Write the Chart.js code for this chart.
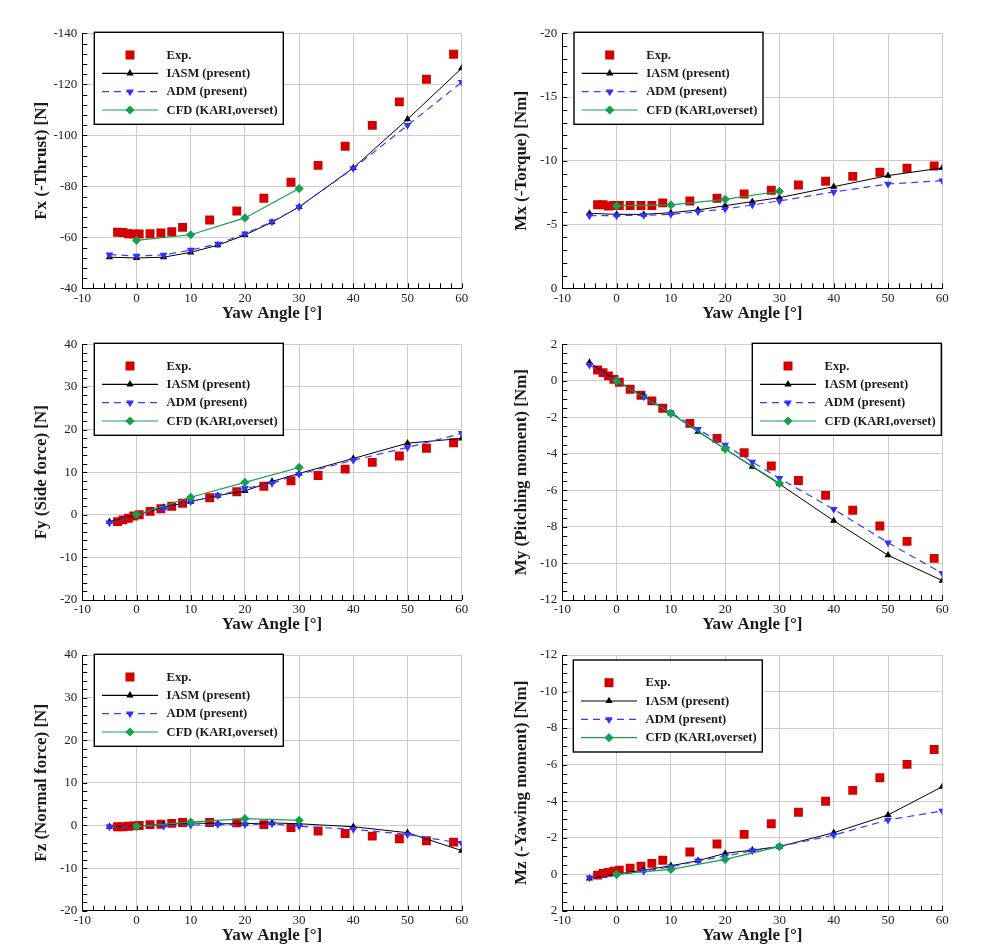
<!DOCTYPE html>
<html>
<head>
<meta charset="utf-8">
<script src="https://cdn.jsdelivr.net/npm/chart.js@4/dist/chart.umd.min.js"></script>
<style>
  html, body { margin: 0; padding: 0; background: #fff; }
  #wrap { position: relative; width: 999px; height: 946px; overflow: hidden; background: #fff; }
  canvas { position: absolute; }
</style>
</head>
<body>
<div id="wrap"></div>
<script>
// ---------------- DATA ----------------
const yawExp   = [-3.5, -2.5, -1.5, -0.5, 0.5, 2.5, 4.5, 6.5, 8.5, 13.5, 18.5, 23.5, 28.5, 33.5, 38.5, 43.5, 48.5, 53.5, 58.5];
const yawModel = [-5, 0, 5, 10, 15, 20, 25, 30, 40, 50, 60];
const yawCFD   = [0, 10, 20, 30];

const fxExp  = [-62.0, -61.9, -61.4, -61.3, -61.3, -61.4, -61.7, -62.2, -63.9, -66.8, -70.3, -75.3, -81.6, -88.2, -95.7, -103.9, -113.1, -122.0, -131.8];
const fxIASM = [-52.2, -51.9, -52.2, -54.1, -56.9, -60.9, -65.9, -71.9, -87.2, -106.3, -126.3];
const fxADM  = [-53.2, -52.7, -53.1, -55.0, -57.4, -61.4, -66.1, -71.9, -87.0, -103.9, -120.8];
const fxCFD  = [-58.8, -61.0, -67.6, -79.1];

const mxExp  = [-6.55, -6.55, -6.45, -6.5, -6.5, -6.5, -6.5, -6.5, -6.7, -6.85, -7.06, -7.40, -7.69, -8.10, -8.39, -8.78, -9.10, -9.41, -9.59];
const mxIASM = [-5.88, -5.8, -5.8, -5.93, -6.14, -6.48, -6.8, -7.11, -7.97, -8.84, -9.44];
const mxADM  = [-5.7, -5.7, -5.73, -5.8, -6.0, -6.22, -6.54, -6.85, -7.56, -8.18, -8.44];
const mxCFD  = [-6.46, -6.54, -6.98, -7.61];

const fyExp  = [-1.6, -1.2, -0.8, -0.3, 0.0, 0.8, 1.4, 2.0, 2.7, 4.0, 5.4, 6.7, 8.0, 9.2, 10.7, 12.3, 13.8, 15.6, 16.9];
const fyIASM = [-1.6, 0, 1.7, 3.1, 4.5, 5.6, 7.8, 9.7, 13.2, 16.8, 17.9];
const fyADM  = [-1.9, 0, 1.5, 3.1, 4.5, 6.2, 7.4, 9.5, 12.8, 15.8, 19.1];
const fyCFD  = [0, 4.1, 7.6, 11.1];

const myExp  = [0.59, 0.45, 0.27, 0.08, -0.08, -0.46, -0.79, -1.10, -1.50, -2.33, -3.15, -3.93, -4.66, -5.46, -6.27, -7.09, -7.95, -8.79, -9.72];
const myIASM = [1.0, 0, -0.83, -1.78, -2.78, -3.73, -4.70, -5.65, -7.66, -9.55, -10.94];
const myADM  = [0.87, 0, -0.87, -1.74, -2.65, -3.51, -4.44, -5.34, -7.03, -8.86, -10.54];
const myCFD  = [0, -1.78, -3.73, -5.61];

const fzExp  = [-0.3, -0.3, -0.2, -0.1, 0, 0.2, 0.3, 0.5, 0.7, 0.7, 0.6, 0.2, -0.5, -1.3, -1.9, -2.5, -3.1, -3.6, -3.9];
const fzIASM = [-0.3, -0.1, 0.2, 0.6, 0.4, 0.4, 0.6, 0.4, -0.3, -1.7, -5.9];
const fzADM  = [-0.3, -0.2, -0.1, 0.1, 0.2, 0.2, 0.4, -0.2, -0.9, -2.1, -4.2];
const fzCFD  = [-0.2, 0.8, 1.6, 1.2];

const mzExp  = [0.05, -0.04, -0.1, -0.16, -0.22, -0.33, -0.44, -0.59, -0.76, -1.21, -1.65, -2.18, -2.76, -3.39, -3.99, -4.59, -5.28, -6.01, -6.83];
const mzIASM = [0.23, 0, -0.22, -0.46, -0.74, -1.14, -1.32, -1.51, -2.27, -3.24, -4.79];
const mzADM  = [0.19, 0.05, -0.16, -0.40, -0.73, -0.99, -1.28, -1.51, -2.14, -2.97, -3.46];
const mzCFD  = [0, -0.26, -0.81, -1.51];

const seriesNames = ['Exp.', 'IASM (present)', 'ADM (present)', 'CFD (KARI,overset)'];
const xTitle = 'Yaw Angle [\u00B0]';
const yTitles = ['Fx (-Thrust) [N]', 'Mx (-Torque) [Nm]', 'Fy (Side force) [N]', 'My (Pitching moment) [Nm]', 'Fz (Normal force) [N]', 'Mz (-Yawing moment) [Nm]'];

// ---------------- STYLE ----------------
const SERIF = '"Liberation Serif", "Times New Roman", serif';
const C_EXP = '#d40000', C_IASM = '#000000', C_ADM = '#3c3cff', C_CFD = '#14a050';
const GRID = '#cccccc';

const panels = [
  { data: [fxExp, fxIASM, fxADM, fxCFD], y: { min: -140, max: -40, step: 20, minor: 4,   reverse: true },
    cx: 0,   cy: 0,   W: 490, H: 330, L: 82.3,  T: 33.3,  R: 461.7, B: 288.3, titleYc: 314,   titleXc: 41.7,  leg: [94.3, 32.3] },
  { data: [mxExp, mxIASM, mxADM, mxCFD], y: { min: -20,  max: 0,   step: 5,  minor: 1,   reverse: true },
    cx: 490, cy: 0,   W: 509, H: 330, L: 562.3, T: 33.3,  R: 942.3, B: 288.3, titleYc: 314,   titleXc: 521.7, leg: [574, 32.3] },
  { data: [fyExp, fyIASM, fyADM, fyCFD], y: { min: -20,  max: 40,  step: 10, minor: 2,   reverse: false },
    cx: 0,   cy: 330, W: 490, H: 310, L: 82.3,  T: 344.3, R: 461.7, B: 600,   titleYc: 625,   titleXc: 41.7,  leg: [94.3, 343.3] },
  { data: [myExp, myIASM, myADM, myCFD], y: { min: -12,  max: 2,   step: 2,  minor: 0.5, reverse: false },
    cx: 490, cy: 330, W: 509, H: 310, L: 562.3, T: 344.3, R: 942.3, B: 600,   titleYc: 625,   titleXc: 521.7, leg: [752.3, 343.3] },
  { data: [fzExp, fzIASM, fzADM, fzCFD], y: { min: -20,  max: 40,  step: 10, minor: 2,   reverse: false },
    cx: 0,   cy: 640, W: 490, H: 306, L: 82.3,  T: 655,   R: 461.7, B: 910.7, titleYc: 935.7, titleXc: 41.7,  leg: [94.3, 654.3] },
  { data: [mzExp, mzIASM, mzADM, mzCFD], y: { min: -12,  max: 2,   step: 2,  minor: 0.5, reverse: true },
    cx: 490, cy: 640, W: 509, H: 306, L: 562.3, T: 655,   R: 942.3, B: 910.7, titleYc: 935.7, titleXc: 521.7, leg: [573.3, 660] }
];

function pts(xs, ys) { return xs.map((x, i) => ({ x: x, y: ys[i] })); }

// marker drawer for legend
function marker(ctx, style, x, y, color) {
  ctx.save();
  ctx.fillStyle = color;
  ctx.beginPath();
  if (style === 'rect') {
    ctx.rect(x - 4.5, y - 4.5, 9, 9);
  } else if (style === 'up') {
    const r = 4.2;
    ctx.moveTo(x, y - r); ctx.lineTo(x + r * 0.866, y + r * 0.5); ctx.lineTo(x - r * 0.866, y + r * 0.5); ctx.closePath();
  } else if (style === 'down') {
    const r = 4.5;
    ctx.moveTo(x, y + r); ctx.lineTo(x + r * 0.866, y - r * 0.5); ctx.lineTo(x - r * 0.866, y - r * 0.5); ctx.closePath();
  } else if (style === 'diamond') {
    const r = 4.6;
    ctx.moveTo(x, y - r); ctx.lineTo(x + r, y); ctx.lineTo(x, y + r); ctx.lineTo(x - r, y); ctx.closePath();
  }
  ctx.fill();
  ctx.restore();
}

const boxLegend = {
  id: 'boxLegend',
  afterDraw(chart, args, opts) {
    const ctx = chart.ctx;
    const bx = opts.x, by = opts.y, bw = 189, bh = 92;
    ctx.save();
    ctx.fillStyle = '#ffffff';
    ctx.fillRect(bx, by, bw, bh);
    ctx.strokeStyle = '#000';
    ctx.lineWidth = 1.4;
    ctx.strokeRect(bx, by, bw, bh);
    const rows = [22.7, 41, 59.4, 77.7];
    const items = [
      { line: null,  dash: [],    marker: 'rect',    mc: C_EXP },
      { line: C_IASM, dash: [],   marker: 'up',      mc: C_IASM },
      { line: C_ADM, dash: [7, 5], marker: 'down',   mc: '#3030ff' },
      { line: C_CFD, dash: [],    marker: 'diamond', mc: C_CFD }
    ];
    items.forEach((it, i) => {
      const yy = by + rows[i];
      if (it.line) {
        ctx.save();
        ctx.strokeStyle = it.line;
        ctx.lineWidth = 1.2;
        ctx.setLineDash(it.dash);
        ctx.beginPath();
        ctx.moveTo(bx + 7.7, yy); ctx.lineTo(bx + 63.7, yy);
        ctx.stroke();
        ctx.restore();
      }
      marker(ctx, it.marker, bx + 35.7, yy, it.mc);
      ctx.fillStyle = '#1a1a1a';
      ctx.font = 'bold 12.5px ' + SERIF;
      ctx.textBaseline = 'middle';
      ctx.textAlign = 'left';
      ctx.fillText(seriesNames[i], bx + 72.3, yy + 0.5);
    });
    ctx.restore();
  }
};

const minorTicks = {
  id: 'minorTicks',
  beforeDatasetsDraw(chart, args, opts) {
    const ctx = chart.ctx, a = chart.chartArea;
    const xs = chart.scales.x, ys = chart.scales.y;
    ctx.save();
    ctx.strokeStyle = '#000';
    ctx.lineWidth = 1;
    ctx.beginPath();
    for (let v = xs.min; v <= xs.max + 1e-9; v += opts.xMinor) {
      const p = Math.round(xs.getPixelForValue(v)) + 0.5;
      ctx.moveTo(p, a.bottom); ctx.lineTo(p, a.bottom - 5);
    }
    const n = Math.round((ys.max - ys.min) / opts.yMinor);
    for (let k = 0; k <= n; k++) {
      const v = ys.min + k * opts.yMinor;
      const p = Math.round(ys.getPixelForValue(v)) + 0.5;
      ctx.moveTo(a.left, p); ctx.lineTo(a.left + 5, p);
    }
    ctx.stroke();
    ctx.restore();
  }
};

const wrap = document.getElementById('wrap');
panels.forEach((p, idx) => {
  const cv = document.createElement('canvas');
  cv.width = p.W; cv.height = p.H;
  cv.style.left = p.cx + 'px'; cv.style.top = p.cy + 'px';
  cv.style.width = p.W + 'px'; cv.style.height = p.H + 'px';
  wrap.appendChild(cv);

  const yAxisW = p.L - p.cx;
  const xAxisH = p.cy + p.H - p.B;
  const titleLH = 17 * 1.2;
  const xTitlePad = (p.cy + p.H - p.titleYc) - titleLH / 2;
  const yTitlePad = (p.titleXc - p.cx) - titleLH / 2;

  const [dExp, dIASM, dADM, dCFD] = p.data;

  new Chart(cv, {
    type: 'scatter',
    data: {
      datasets: [
        { label: seriesNames[0], data: pts(yawExp, dExp), showLine: false, order: 4,
          pointStyle: 'rect', pointRadius: 6.3, pointBackgroundColor: C_EXP, pointBorderWidth: 0, pointBorderColor: C_EXP },
        { label: seriesNames[1], data: pts(yawModel, dIASM), showLine: true, order: 3,
          borderColor: C_IASM, borderWidth: 1, pointStyle: 'triangle', pointRadius: 4.2,
          pointBackgroundColor: C_IASM, pointBorderWidth: 0 },
        { label: seriesNames[2], data: pts(yawModel, dADM), showLine: true, order: 2,
          borderColor: C_ADM, borderWidth: 1.2, borderDash: [7, 5], pointStyle: 'triangle', pointRotation: 180,
          pointRadius: 4.5, pointBackgroundColor: '#3030ff', pointBorderWidth: 0 },
        { label: seriesNames[3], data: pts(yawCFD, dCFD), showLine: true, order: 1,
          borderColor: C_CFD, borderWidth: 1.2, pointStyle: 'rectRot', pointRadius: 4.6,
          pointBackgroundColor: C_CFD, pointBorderWidth: 0 }
      ]
    },
    options: {
      responsive: false,
      animation: false,
      devicePixelRatio: 1,
      layout: { padding: { left: 0, top: p.T - p.cy, right: p.cx + p.W - p.R, bottom: 0 } },
      plugins: {
        legend: { display: false },
        tooltip: { enabled: false },
        boxLegend: { x: p.leg[0] - p.cx, y: p.leg[1] - p.cy },
        minorTicks: { xMinor: 2, yMinor: p.y.minor }
      },
      scales: {
        x: {
          type: 'linear', min: -10, max: 60,
          ticks: { stepSize: 10, color: '#222', font: { family: SERIF, size: 13 }, padding: 2, maxRotation: 0, autoSkip: false },
          grid: { color: GRID, lineWidth: 1, drawTicks: false },
          border: { color: '#000', width: 1 },
          title: { display: true, text: xTitle, color: '#1a1a1a', font: { family: SERIF, size: 17, weight: 'bold' },
                   padding: { top: 0, bottom: xTitlePad } },
          afterFit: s => { s.height = xAxisH; }
        },
        y: {
          type: 'linear', min: p.y.min, max: p.y.max, reverse: p.y.reverse,
          ticks: { stepSize: p.y.step, color: '#222', font: { family: SERIF, size: 13 }, padding: 5 },
          grid: { color: GRID, lineWidth: 1, drawTicks: false },
          border: { color: '#000', width: 1 },
          title: { display: true, text: yTitles[idx], color: '#1a1a1a', font: { family: SERIF, size: 17, weight: 'bold' },
                   padding: { top: yTitlePad, bottom: 0 } },
          afterFit: s => { s.width = yAxisW; }
        }
      }
    },
    plugins: [minorTicks, boxLegend]
  });
});
</script>
</body>
</html>
